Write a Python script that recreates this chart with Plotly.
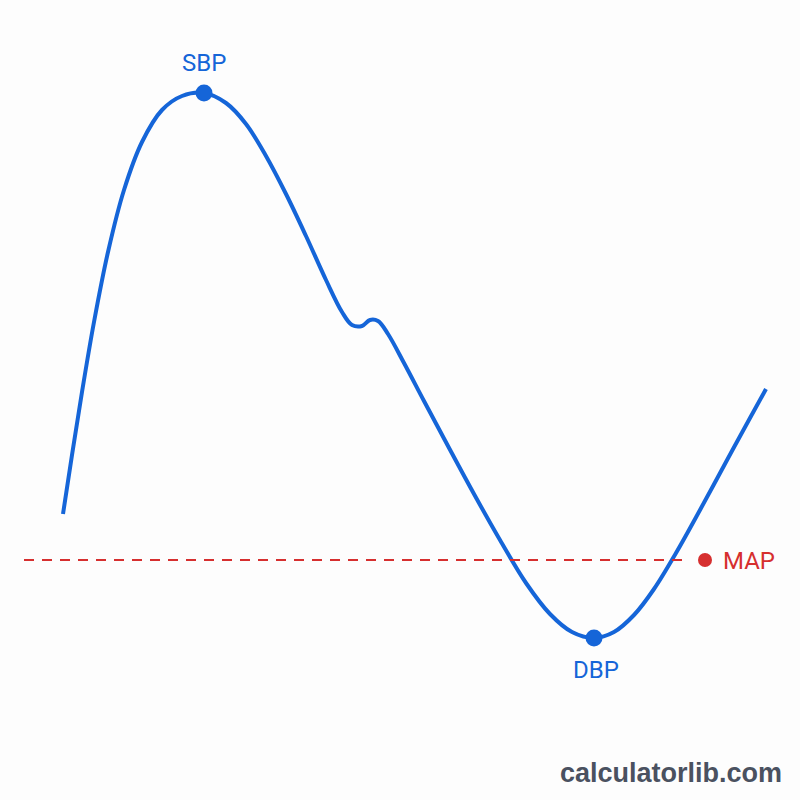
import plotly.graph_objects as go

# Waveform samples (time units, pressure units in picture space)
wave_x = [63, 72, 82, 94, 108, 124, 142, 162, 182, 204, 226, 246, 266, 286, 306, 326, 342, 352, 362, 370, 378, 388, 404, 424, 448, 474, 500, 526, 550, 572, 594, 614, 634, 654, 676, 700, 726, 750, 766]
wave_y = [514, 455, 392, 322, 252, 190, 142, 110, 96, 93, 103, 124, 156, 194, 236, 280, 312, 325, 326, 320, 321, 334, 363, 401, 446, 494, 540, 583, 614, 632, 638, 632, 615, 589, 553, 510, 462, 418, 389]

sbp = (204, 93)
dbp = (594, 638)
map_y = 560
map_line_x = [24, 690]
map_dot_x = 705

blue = "#1565d8"
red = "#d62f2f"
font = "Roboto"

fig = go.Figure()
fig.add_trace(go.Scatter(x=wave_x, y=wave_y, mode="lines",
                         line=dict(color=blue, width=4, shape="spline", smoothing=1.0),
                         hoverinfo="skip"))
fig.add_trace(go.Scatter(x=map_line_x, y=[map_y, map_y], mode="lines",
                         line=dict(color=red, width=2.2, dash="10px,8px"), hoverinfo="skip"))
fig.add_trace(go.Scatter(x=[map_dot_x], y=[map_y], mode="markers",
                         marker=dict(color=red, size=14), hoverinfo="skip"))
fig.add_trace(go.Scatter(x=[sbp[0], dbp[0]], y=[sbp[1], dbp[1]], mode="markers",
                         marker=dict(color=blue, size=17), hoverinfo="skip"))

fig.add_annotation(x=sbp[0], y=sbp[1] - 30, text="SBP", showarrow=False,
                   font=dict(color=blue, size=24, family=font))
fig.add_annotation(x=dbp[0] + 2, y=dbp[1] + 32, text="DBP", showarrow=False,
                   font=dict(color=blue, size=24, family=font))
fig.add_annotation(x=map_dot_x + 16, y=map_y + 1, text="MAP", showarrow=False, xanchor="left",
                   font=dict(color=red, size=24, family=font))

fig.add_annotation(x=671, y=773, xref="x", yref="y", text="<b>calculatorlib.com</b>",
                   showarrow=False, font=dict(color="#4a5160", size=27, family="Liberation Sans"))

fig.update_layout(width=800, height=800, margin=dict(l=0, r=0, t=0, b=0),
                  paper_bgcolor="#fdfdfd", plot_bgcolor="#fdfdfd", showlegend=False,
                  xaxis=dict(range=[0, 800], visible=False, fixedrange=True),
                  yaxis=dict(range=[800, 0], visible=False, fixedrange=True))
fig.write_html("out.html")
